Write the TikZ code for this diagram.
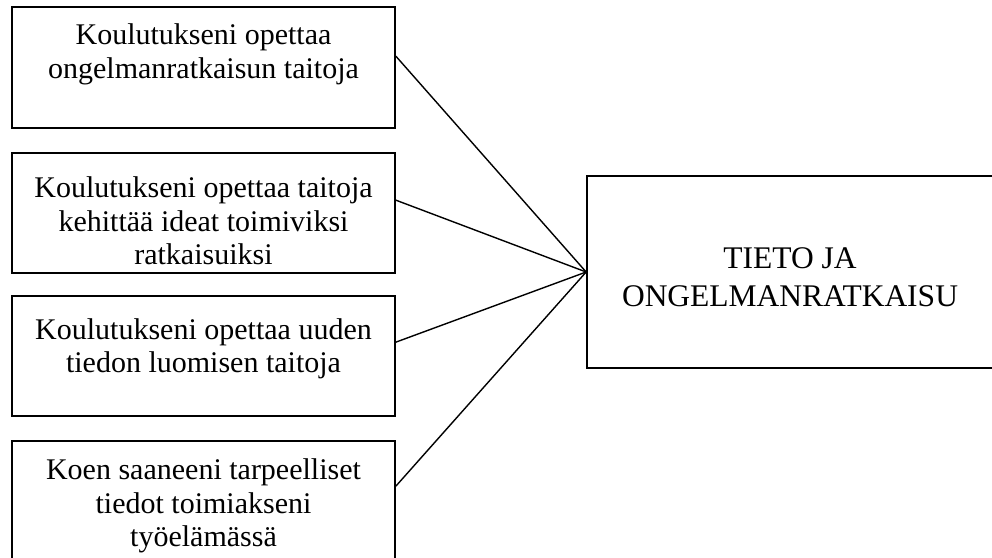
\documentclass[tikz,border=0pt]{standalone}
\usepackage{fontspec}
\setmainfont{Liberation Serif}
\usetikzlibrary{calc}
\tikzset{
  box/.style={draw=black, line width=1.7pt, fill=none, inner sep=0pt, minimum width=383pt},
  txt/.style={inner sep=0pt, align=center, anchor=north, font=\fontsize{30}{33.5}\selectfont},
  bigtxt/.style={inner sep=0pt, align=center, anchor=north, font=\fontsize{31.5}{38}\selectfont},
  conn/.style={draw=black, line width=1.4pt}
}
\begin{document}
\begin{tikzpicture}[x=1pt, y=-1pt]
\clip (0,0) rectangle (992,557);
\fill[white] (0,0) rectangle (992,557);
% left boxes
\node[box, minimum height=121pt] (b1) at (203.5,67.5) {};
\node[box, minimum height=120pt] (b2) at (203.5,213) {};
\node[box, minimum height=120pt] (b3) at (203.5,356) {};
\node[box, minimum height=124pt] (b4) at (203.5,503) {};
% right box
\node[box, minimum width=406pt, minimum height=192pt] (r) at (790,272) {};
% texts
\node[txt] (t1) at (203.5,23.5) {Koulutukseni opettaa\\ongelmanratkaisun taitoja};
\node[txt] (t2) at (203.5,176.5) {Koulutukseni opettaa taitoja\\kehittää ideat toimiviksi\\ratkaisuiksi};
\node[txt] (t3) at (203.5,318) {Koulutukseni opettaa uuden\\tiedon luomisen taitoja};
\node[txt] (t4) at (203.5,458.5) {Koen saaneeni tarpeelliset\\tiedot toimiakseni\\työelämässä};
\node[bigtxt] (tr) at (790,247.5) {TIETO JA\\ONGELMANRATKAISU};
% connector start points on the box borders
\coordinate (p1) at ($(b1.north east)+(0,50)$);
\coordinate (p2) at ($(b2.north east)+(0,48)$);
\coordinate (p3) at ($(b3.north east)+(0,47)$);
\coordinate (p4) at ($(b4.north east)+(0,46)$);
\draw[conn] (p1) -- (r.west);
\draw[conn] (p2) -- (r.west);
\draw[conn] (p3) -- (r.west);
\draw[conn] (p4) -- (r.west);
\end{tikzpicture}
\end{document}
